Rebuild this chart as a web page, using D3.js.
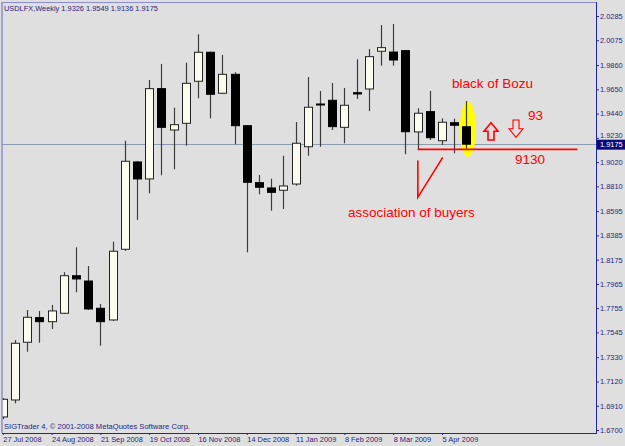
<!DOCTYPE html>
<html>
<head>
<meta charset="utf-8">
<title>USDLFX Weekly</title>
<style>
  body { margin: 0; background: #dfdfdf; }
  text { font-family: "Liberation Sans", Arial, sans-serif; }
</style>
</head>
<body>
<div id="chart"></div>
<script src="https://cdn.jsdelivr.net/npm/d3@7"></script>
<script>
// weekly bars, 27 Jul 2008 .. 19 Apr 2009
var weeks = ["27 Jul 2008","3 Aug 2008","10 Aug 2008","17 Aug 2008","24 Aug 2008","31 Aug 2008","7 Sep 2008",
  "14 Sep 2008","21 Sep 2008","28 Sep 2008","5 Oct 2008","12 Oct 2008","19 Oct 2008","26 Oct 2008","2 Nov 2008",
  "9 Nov 2008","16 Nov 2008","23 Nov 2008","30 Nov 2008","7 Dec 2008","14 Dec 2008","21 Dec 2008","28 Dec 2008",
  "4 Jan 2009","11 Jan 2009","18 Jan 2009","25 Jan 2009","1 Feb 2009","8 Feb 2009","15 Feb 2009","22 Feb 2009",
  "1 Mar 2009","8 Mar 2009","15 Mar 2009","22 Mar 2009","29 Mar 2009","5 Apr 2009","12 Apr 2009","19 Apr 2009"];

var open  = [1.6813,1.6960,1.7460,1.7673,1.7638,1.7711,1.8036,1.7990,1.7754,1.7653,1.8265,1.9021,1.8874,1.9656,1.9298,1.9356,1.9720,1.9971,1.9616,1.9780,1.9335,1.8842,1.8796,1.8776,1.8830,1.9153,1.9523,1.9555,1.9321,1.9621,1.9653,1.9980,1.9973,1.9985,1.9281,1.9457,1.9205,1.9361,1.9326];
var high  = [1.6977,1.7479,1.7739,1.7731,1.7783,1.8066,1.8282,1.8120,1.7791,1.8331,1.9205,1.9030,1.9731,1.9870,1.9491,1.9881,2.0127,1.9976,1.9948,1.9798,1.9338,1.8908,1.8876,1.9075,1.9367,1.9757,1.9636,1.9705,1.9662,1.9910,1.9999,2.0207,2.0216,1.9990,1.9486,1.9636,1.9399,1.9396,1.9549];
var low   = [1.6795,1.6931,1.7378,1.7456,1.7575,1.7705,1.7893,1.7739,1.7430,1.7644,1.8250,1.8519,1.8750,1.8906,1.8958,1.9162,1.9573,1.9399,1.9610,1.9174,1.8239,1.8741,1.8599,1.8614,1.8816,1.9075,1.9153,1.9298,1.9183,1.9567,1.9462,1.9855,1.9855,1.9088,1.9131,1.9211,1.9168,1.9096,1.9136];
var close = [1.6966,1.7451,1.7676,1.7638,1.7731,1.8036,1.8008,1.7748,1.7638,1.8248,1.9027,1.8874,1.9656,1.9321,1.9344,1.9702,1.9971,1.9607,1.9780,1.9335,1.8845,1.8802,1.8758,1.8813,1.9183,1.9495,1.9518,1.9327,1.9512,1.9610,1.9933,2.0011,1.9904,1.9283,1.9443,1.9231,1.9365,1.9339,1.9175];

var dateTicks = ["27 Jul 2008","24 Aug 2008","21 Sep 2008","19 Oct 2008","16 Nov 2008","14 Dec 2008","11 Jan 2009","8 Feb 2009","8 Mar 2009","5 Apr 2009"];
var priceTicks = ["2.0285","2.0075","1.9860","1.9650","1.9440","1.9230","1.9020","1.8810","1.8595","1.8385","1.8175","1.7965","1.7755","1.7545","1.7330","1.7120","1.6910","1.6700"];
var lastPrice = 1.9175;
var level = 1.9130;

var W = 625, H = 446;
var axisX = 596, axisY = 433;

var svg = d3.select('#chart').append('svg')
  .attr('width', W).attr('height', H)
  .style('background', '#dfdfdf');

var x = d3.scalePoint().domain(weeks).range([2.8, 466.4]);
// index scale used for the hand drawn notes
var xi = d3.scaleLinear().domain([0, weeks.length - 1]).range([2.8, 466.4]);
var y = d3.scaleLinear().domain([1.67, 2.0285]).range([430, 16]);

var bars = weeks.map((w, i) => ({w: w, o: open[i], h: high[i], l: low[i], c: close[i]}));

svg.append('clipPath').attr('id', 'plot')
  .append('rect').attr('x', 2).attr('y', 2).attr('width', axisX - 2).attr('height', axisY - 2);

var plot = svg.append('g').attr('clip-path', 'url(#plot)');

// current price line
plot.append('line')
  .attr('x1', 0).attr('x2', axisX)
  .attr('y1', Math.round(y(lastPrice)) + 0.5).attr('y2', Math.round(y(lastPrice)) + 0.5)
  .attr('stroke', '#8b9bb0').attr('stroke-width', 1);

// yellow highlight round the last bar
var lastBar = bars[bars.length - 1];
plot.append('ellipse')
  .attr('cx', x(lastBar.w) + 1.5)
  .attr('cy', (y(1.9545) + y(1.9065)) / 2)
  .attr('rx', 8)
  .attr('ry', (y(1.9065) - y(1.9545)) / 2)
  .attr('fill', '#ffff00');

// wicks
plot.selectAll('line.wick').data(bars).enter().append('line')
  .attr('class', 'wick')
  .attr('x1', d => Math.round(x(d.w)) + 0.5).attr('x2', d => Math.round(x(d.w)) + 0.5)
  .attr('y1', d => y(d.h)).attr('y2', d => y(d.l))
  .attr('stroke', '#3c3c3c').attr('stroke-width', 1.2);

// bodies
plot.selectAll('rect.body').data(bars).enter().append('rect')
  .attr('class', 'body')
  .attr('x', d => Math.round(x(d.w)) - 3.5)
  .attr('width', 8)
  .attr('y', d => y(Math.max(d.o, d.c)))
  .attr('height', d => Math.max(1, Math.abs(y(d.o) - y(d.c))))
  .attr('fill', d => d.c >= d.o ? '#fcfcee' : '#000')
  .attr('stroke', d => d.c >= d.o ? '#222' : '#000')
  .attr('stroke-width', 1);

// frame
svg.append('line').attr('x1', 2).attr('x2', 2).attr('y1', 2).attr('y2', axisY)
  .attr('stroke', '#8c8cd0').attr('stroke-width', 1.5);
svg.append('line').attr('x1', 2).attr('x2', axisX).attr('y1', 2.5).attr('y2', 2.5)
  .attr('stroke', '#8c8cd0').attr('stroke-width', 1.2);

// price axis
var yAxis = d3.axisRight(y)
  .tickValues(priceTicks.map(Number))
  .tickFormat(d3.format('.4f'))
  .tickSize(3).tickPadding(1);
var gy = svg.append('g').attr('transform', 'translate(' + axisX + ',0)').call(yAxis);
gy.select('.domain').attr('d', 'M0.5,2V' + axisY).attr('stroke', '#2323a6');
gy.selectAll('.tick line').attr('stroke', '#2323a6');
gy.selectAll('.tick text').attr('fill', '#262680')
  .style('font-family', '"Liberation Sans", Arial, sans-serif').style('font-size', '7.4px')
  // the label just above the price box sits a little higher
  .attr('dy', d => Math.abs(y(d) - y(lastPrice)) < 9 ? '-0.05em' : '0.32em');

// date axis
var xAxis = d3.axisBottom(x)
  .tickValues(dateTicks)
  .tickSize(2).tickPadding(3);
var gx = svg.append('g').attr('transform', 'translate(0,' + axisY + ')').call(xAxis);
gx.select('.domain').attr('d', 'M2,0.5H' + (axisX + 1)).attr('stroke', '#2323a6');
gx.selectAll('.tick line').attr('stroke', '#2323a6');
gx.selectAll('.tick text').attr('fill', '#262680')
  .attr('text-anchor', 'start').attr('dy', '0.6em')
  .style('font-family', '"Liberation Sans", Arial, sans-serif').style('font-size', '7.4px');

// last price box
var lp = y(lastPrice);
svg.append('rect').attr('x', axisX + 1).attr('y', lp - 4.5).attr('width', 28).attr('height', 10)
  .attr('fill', '#0a0a7a');
svg.append('text').attr('x', axisX + 4).attr('y', lp + 3)
  .attr('fill', '#fff').style('font-size', '7.4px')
  .text(d3.format('.4f')(lastPrice));

// title and copyright
svg.append('text').attr('x', 4).attr('y', 11)
  .attr('fill', '#262680').style('font-size', '7.4px')
  .text('USDLFX,Weekly  ' + [lastBar.o, lastBar.h, lastBar.l, lastBar.c].map(d3.format('.4f')).join(' '));
svg.append('text').attr('x', 4).attr('y', 429)
  .attr('fill', '#262680').style('font-size', '7.6px')
  .text('SIGTrader 4, \u00a9 2001-2008 MetaQuotes Software Corp.');

// hand drawn notes in red
var red = '#ff0000';
var notes = svg.append('g');
notes.append('line')
  .attr('x1', xi(34)).attr('x2', xi(47.1))
  .attr('y1', y(level)).attr('y2', y(level))
  .attr('stroke', red).attr('stroke-width', 1.6);

notes.append('path')
  .attr('d', 'M' + xi(34.02) + ',' + y(1.9034) + 'V' + y(1.8715) + 'L' + xi(36.06) + ',' + y(1.9061))
  .attr('fill', 'none').attr('stroke', red).attr('stroke-width', 1.6);

// up arrow
var ux = 491, uy = 122.7;
notes.append('path')
  .attr('d', 'M' + ux + ',' + uy + 'L' + (ux + 7) + ',' + (uy + 8.5) + 'H' + (ux + 3) + 'V' + (uy + 17.3) +
        'H' + (ux - 3) + 'V' + (uy + 8.5) + 'H' + (ux - 7) + 'Z')
  .attr('fill', 'none').attr('stroke', red).attr('stroke-width', 1.6);
// down arrow
var dx = 516, dy = 137.3;
notes.append('path')
  .attr('d', 'M' + dx + ',' + dy + 'L' + (dx + 7) + ',' + (dy - 8.5) + 'H' + (dx + 3) + 'V' + (dy - 17.3) +
        'H' + (dx - 3) + 'V' + (dy - 8.5) + 'H' + (dx - 7) + 'Z')
  .attr('fill', 'none').attr('stroke', red).attr('stroke-width', 1.1);

notes.append('text').attr('x', 452).attr('y', 87.5)
  .attr('fill', red).style('font-size', '13.5px').text('black of Bozu');
notes.append('text').attr('x', 528).attr('y', 120)
  .attr('fill', red).style('font-size', '13.5px').text('93');
notes.append('text').attr('x', 515).attr('y', 164)
  .attr('fill', red).style('font-size', '13.5px').text('9130');
notes.append('text').attr('x', 348).attr('y', 217)
  .attr('fill', red).style('font-size', '13.5px').text('association of buyers');
</script>
</body>
</html>
